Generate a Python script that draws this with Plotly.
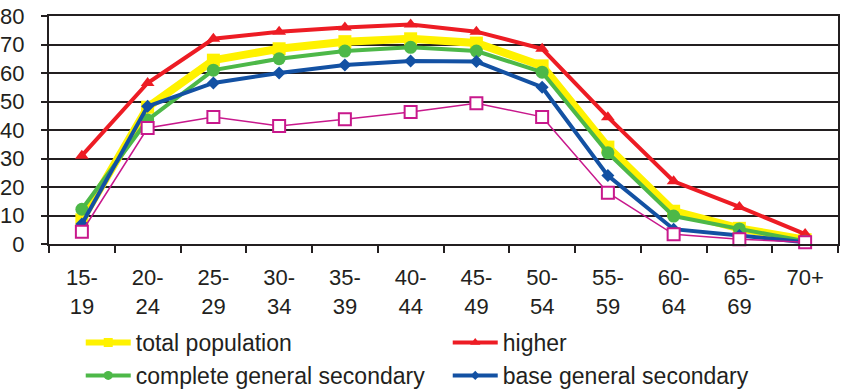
import plotly.graph_objects as go

age_groups = ["15-<br>19", "20-<br>24", "25-<br>29", "30-<br>34", "35-<br>39", "40-<br>44",
              "45-<br>49", "50-<br>54", "55-<br>59", "60-<br>64", "65-<br>69", "70+"]

total_population = [8.5, 48, 64.5, 68.5, 71, 72, 70.5, 62.5, 34, 11.5, 5.5, 1.5]
higher = [31, 56.5, 72, 74.5, 76, 77, 74.5, 68.5, 44.5, 22, 13, 3.5]
complete_general_secondary = [12.2, 43.5, 61, 65, 67.7, 69, 67.7, 60.3, 32, 9.8, 5.3, 1]
base_general_secondary = [7, 48.3, 56.5, 60, 62.8, 64.2, 64, 55, 24, 5.2, 3, 0.6]
primary = [4.3, 40.7, 44.6, 41.4, 43.8, 46.3, 49.4, 44.6, 18, 3.4, 1.7, 0.6]

YELLOW = "#FFF200"
RED = "#ED1C24"
GREEN = "#4DB848"
BLUE = "#1351A3"
MAGENTA = "#C8188C"

series = [
    ("total population", total_population, YELLOW, 8, "square", 13, 9),
    ("higher", higher, RED, 4, "triangle-up", 12, 9),
    ("complete general secondary", complete_general_secondary, GREEN, 4, "circle", 13, 9),
    ("base general secondary", base_general_secondary, BLUE, 4, "diamond", 10, 7),
]

fig = go.Figure()

for name, values, color, lw, symbol, msize, _ in series:
    fig.add_trace(go.Scatter(
        x=age_groups, y=values, mode="lines+markers", name=name,
        line=dict(color=color, width=lw),
        marker=dict(symbol=symbol, size=msize, color=color),
        cliponaxis=False, showlegend=False,
    ))

fig.add_trace(go.Scatter(
    x=age_groups, y=primary, mode="lines+markers", name="primary",
    line=dict(color=MAGENTA, width=1.5),
    marker=dict(symbol="square", size=12, color="white",
                line=dict(color=MAGENTA, width=2)),
    cliponaxis=False, showlegend=False,
))

# legend entries with smaller markers
for name, values, color, lw, symbol, msize, lsize in series:
    fig.add_trace(go.Scatter(
        x=[None], y=[None], mode="lines+markers", name=name,
        line=dict(color=color, width=min(lw, 6)),
        marker=dict(symbol=symbol, size=lsize, color=color),
    ))

fig.update_layout(
    width=841, height=392,
    margin=dict(l=49, r=3, t=16, b=148, autoexpand=False),
    paper_bgcolor="white", plot_bgcolor="white",
    font=dict(family="Liberation Sans, Arial, sans-serif", size=22, color="#231F20"),
    legend=dict(
        orientation="h", xref="container", yref="container",
        x=0.096, y=0.181, xanchor="left", yanchor="top",
        entrywidth=307, itemwidth=45, font=dict(size=23),
        bgcolor="rgba(0,0,0,0)", traceorder="normal",
    ),
)

fig.update_xaxes(
    type="category", range=[-0.5, 11.5],
    showline=True, linecolor="#231F20", linewidth=2, mirror=True,
    ticks="outside", tickson="boundaries", ticklen=7, tickwidth=2, tickcolor="#231F20",
    showgrid=False, ticklabelstandoff=13,
)
fig.update_yaxes(
    range=[0, 80], dtick=10,
    showline=True, linecolor="#231F20", linewidth=2, mirror=True,
    ticks="outside", ticklen=6, tickwidth=2, tickcolor="#231F20",
    showgrid=True, gridcolor="#231F20", gridwidth=2,
    zeroline=False, ticklabelstandoff=12,
)

fig.write_html("out.html")
